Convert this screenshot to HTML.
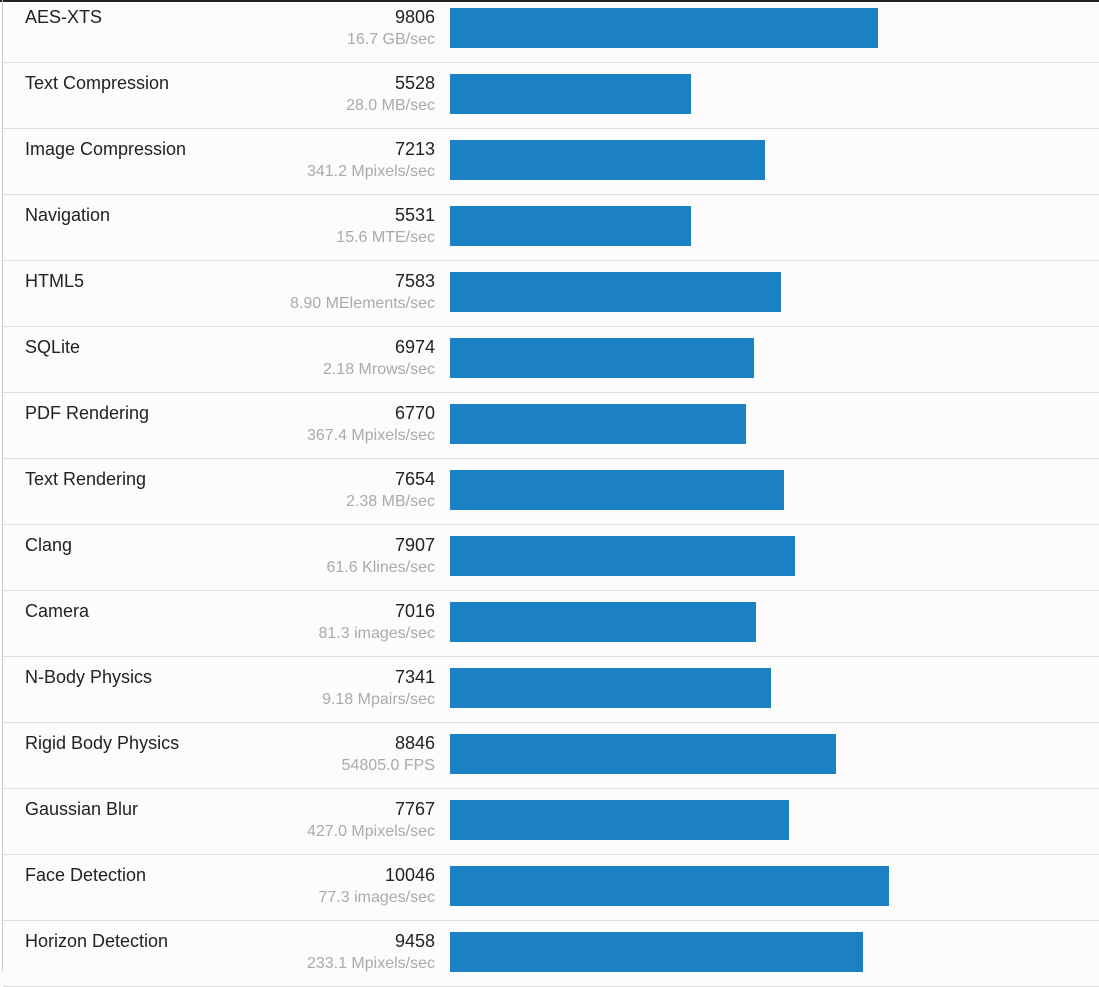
<!DOCTYPE html>
<html><head><meta charset="utf-8"><style>
body{margin:0;width:1099px;height:971px;overflow:hidden;background:#fcfcfd;font-family:"Liberation Sans",Arial,sans-serif;}
#chart{position:absolute;left:0;top:0;width:1099px;height:971px;}
</style></head><body>
<div id="chart">
<div style="position:absolute;left:0;top:0;width:1099px;height:2px;background:#222"></div>
<div style="position:absolute;left:2px;top:0;width:1px;height:971px;background:#ccc"></div>
</div>
<script>
const names=["AES-XTS","Text Compression","Image Compression","Navigation","HTML5","SQLite","PDF Rendering","Text Rendering","Clang","Camera","N-Body Physics","Rigid Body Physics","Gaussian Blur","Face Detection","Horizon Detection"];
const scores=[9806,5528,7213,5531,7583,6974,6770,7654,7907,7016,7341,8846,7767,10046,9458];
const units=["16.7 GB/sec","28.0 MB/sec","341.2 Mpixels/sec","15.6 MTE/sec","8.90 MElements/sec","2.18 Mrows/sec","367.4 Mpixels/sec","2.38 MB/sec","61.6 Klines/sec","81.3 images/sec","9.18 Mpairs/sec","54805.0 FPS","427.0 Mpixels/sec","77.3 images/sec","233.1 Mpixels/sec"];
const c=document.getElementById('chart');
const xScale=v=>v*0.04366;
names.forEach((n,i)=>{
  const top=-3+66*i;
  const row=document.createElement('div');
  
  
  row.style.cssText=`position:absolute;left:3px;top:${top}px;width:1096px;height:66px;border-bottom:1px solid #ddd;box-sizing:border-box;`;
  const nm=document.createElement('div');
  
  
  nm.style.cssText='position:absolute;left:22px;top:10px;font-size:18px;color:#222;white-space:nowrap;';
  nm.textContent=n;row.appendChild(nm);
  const sc=document.createElement('div');
  
  
  sc.style.cssText='position:absolute;right:664px;top:10px;font-size:18px;color:#222;white-space:nowrap;';
  sc.textContent=scores[i];row.appendChild(sc);
  const un=document.createElement('div');
  
  
  un.style.cssText='position:absolute;right:664px;top:34px;font-size:16px;color:#aaa;white-space:nowrap;';
  un.textContent=units[i];row.appendChild(un);
  const b=document.createElement('div');
  
  
  b.style.cssText=`position:absolute;left:447px;top:11px;height:40px;width:${xScale(scores[i])}px;background:#1c80c4;`;
  row.appendChild(b);
  c.appendChild(row);
});
</script>
</body></html>
